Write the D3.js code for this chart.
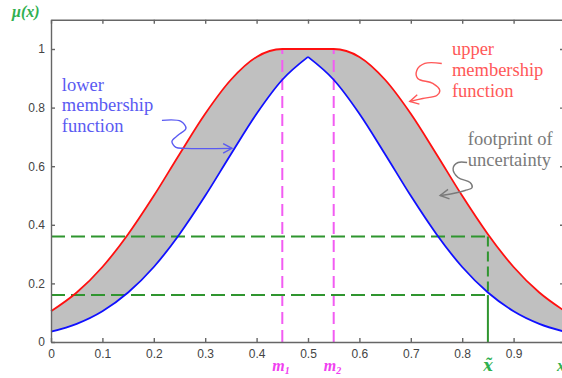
<!DOCTYPE html>
<html>
<head>
<meta charset="utf-8">
<script src="https://cdn.jsdelivr.net/npm/d3@7"></script>
<style>
  body { margin: 0; background: #fff; }
  .axis path, .axis line { stroke: #666; stroke-width: 1.4; }
  .axis text { fill: #444; font-family: "Liberation Sans", Arial, sans-serif; font-size: 12px; }
  .note { font-family: "Liberation Serif", "Times New Roman", serif; font-size: 18.5px; }
</style>
</head>
<body>
<div id="chart"></div>
<script>
// sample points
var xs      = [0, 0.05, 0.1, 0.15, 0.2, 0.25, 0.3, 0.35, 0.4, 0.45, 0.5, 0.55, 0.6, 0.65, 0.7, 0.75, 0.8, 0.85, 0.9, 0.95, 1];
var upperMF = [0.105, 0.169, 0.256, 0.368, 0.499, 0.641, 0.779, 0.895, 0.973, 1, 1, 1, 0.973, 0.895, 0.779, 0.641, 0.499, 0.368, 0.256, 0.169, 0.105];
var lowerMF = [0.035, 0.062, 0.105, 0.169, 0.256, 0.368, 0.499, 0.641, 0.779, 0.895, 0.973, 0.895, 0.779, 0.641, 0.499, 0.368, 0.256, 0.169, 0.105, 0.062, 0.035];

var xTicks = [0, 0.1, 0.2, 0.3, 0.4, 0.5, 0.6, 0.7, 0.8, 0.9, 1];
var xTickLabels = ["0", "0.1", "0.2", "0.3", "0.4", "0.5", "0.6", "0.7", "0.8", "0.9", ""];  // "1" falls off the edge
var yTicks = [0, 0.2, 0.4, 0.6, 0.8, 1];
var yTickLabels = ["0", "0.2", "0.4", "0.6", "0.8", "1"];

var means = [0.45, 0.55];       // m1, m2
var xTilde = 0.85;
var levels = [0.36, 0.16];      // upper / lower grade at x~

var notes = [
  {lines: ["lower", "membership", "function"], tx: 0.021, ty: 0.857, gap: 20.5, color: "#5a5af2",
   ax: 0.352, ay: 0.661, path: [[-70,-28],[-51,-27],[-46,-20],[-54,-13],[-60,-7],[-56,-1],[-47,0],[0,0]]},
  {lines: ["upper", "membership", "function"], tx: 0.780, ty: 0.980, gap: 21, color: "#ff5858",
   ax: 0.698, ay: 0.821, path: [[32,-38],[15,-38],[7,-31],[8,-23],[23,-18],[30,-11],[27,-6],[13,-3],[0,0]]},
  {lines: ["footprint of", "uncertainty"], tx: 0.811, ty: 0.674, gap: 21.5, color: "#7a7a7a",
   ax: 0.757, ay: 0.50, path: [[27,-33],[18,-33],[13,-27],[18,-18],[30,-13],[32,-8],[25,-5],[13,-2],[0,0]]}
];

var width = 562, height = 378;
var svg = d3.select("#chart").append("svg")
  .attr("width", width).attr("height", height);

var x = d3.scaleLinear().domain([0, 1]).range([51, 565]);
var y = d3.scaleLinear().domain([0, 1.1]).range([342, 19.7]);

var pts = xs.map(function(v, i) { return {x: v, u: upperMF[i], l: lowerMF[i]}; });
// lower MF has a sharp apex, so draw both halves on their own
var peak = d3.maxIndex(lowerMF);
var halves = [pts.slice(0, peak + 1), pts.slice(peak)];

var area = d3.area()
  .x(function(d) { return x(d.x); })
  .y0(function(d) { return y(d.l); })
  .y1(function(d) { return y(d.u); })
  .curve(d3.curveMonotoneX);
var lineU = d3.line().x(d => x(d.x)).y(d => y(d.u)).curve(d3.curveMonotoneX);
var lineL = d3.line().x(d => x(d.x)).y(d => y(d.l)).curve(d3.curveMonotoneX);

halves.forEach(function(h) {
  svg.append("path").attr("d", area(h)).attr("fill", "#c0c0c0");
});

// m1, m2 dashed guides
svg.selectAll("line.mean").data(means).enter().append("line")
  .attr("class", "mean")
  .attr("x1", d => x(d)).attr("x2", d => x(d))
  .attr("y1", y(0)).attr("y2", y(1))
  .attr("stroke", "#f25cf2").attr("stroke-width", 2)
  .attr("stroke-dasharray", "12,6");

// x~ guides
var green = "#2f952f";
svg.selectAll("line.lvl").data(levels).enter().append("line")
  .attr("class", "lvl")
  .attr("x1", x(0)).attr("x2", x(xTilde))
  .attr("y1", d => y(d)).attr("y2", d => y(d))
  .attr("stroke", green).attr("stroke-width", 2)
  .attr("stroke-dasharray", "14,6");
svg.append("line")
  .attr("x1", x(xTilde)).attr("x2", x(xTilde))
  .attr("y1", y(levels[0])).attr("y2", y(levels[1]))
  .attr("stroke", green).attr("stroke-width", 2)
  .attr("stroke-dasharray", "10,5");
svg.append("line")
  .attr("x1", x(xTilde)).attr("x2", x(xTilde))
  .attr("y1", y(levels[1])).attr("y2", y(0))
  .attr("stroke", green).attr("stroke-width", 2);

halves.forEach(function(h) {
  svg.append("path").attr("d", lineU(h)).attr("fill", "none")
    .attr("stroke", "#ff1010").attr("stroke-width", 1.8);
  svg.append("path").attr("d", lineL(h)).attr("fill", "none")
    .attr("stroke", "#1010ff").attr("stroke-width", 1.8);
});

// axes box, ticks pointing inward
svg.append("g").attr("class", "axis")
  .attr("transform", "translate(0," + y(0) + ")")
  .call(d3.axisBottom(x).tickValues(xTicks).tickSizeInner(-4).tickSizeOuter(0).tickPadding(7)
    .tickFormat(function(d, i) { return xTickLabels[i]; }));
svg.append("g").attr("class", "axis")
  .attr("transform", "translate(" + x(0) + ",0)")
  .call(d3.axisLeft(y).tickValues(yTicks).tickSizeInner(-4).tickSizeOuter(0).tickPadding(6)
    .tickFormat(function(d, i) { return yTickLabels[i]; }));
svg.append("g").attr("class", "axis")
  .attr("transform", "translate(0," + y(1.1) + ")")
  .call(d3.axisTop(x).tickValues(xTicks).tickSizeInner(-4).tickSizeOuter(0).tickFormat(""));
svg.append("g").attr("class", "axis")
  .attr("transform", "translate(" + x(1) + ",0)")
  .call(d3.axisRight(y).tickValues(yTicks).tickSizeInner(-5).tickSizeOuter(0).tickFormat(""));

// labels
svg.append("text").attr("x", x(0) - 39).attr("y", y(1.1) - 3)
  .attr("fill", "#30b050")
  .style("font", "italic bold 16px 'Liberation Serif', serif")
  .text("\u03bc(x)");

var mLab = svg.selectAll("text.mlab").data(means).enter().append("text")
  .attr("class", "mlab")
  .attr("x", d => x(d) - 10).attr("y", y(0) + 29)
  .attr("fill", "#f040f0")
  .style("font", "italic bold 16px 'Liberation Serif', serif");
mLab.append("tspan").text("m");
mLab.append("tspan").attr("dy", 3).style("font-size", "10px").text((d, i) => String(i + 1));

svg.append("text").attr("x", x(xTilde)).attr("y", y(0) + 29)
  .attr("text-anchor", "middle").attr("fill", "#30b050")
  .style("font", "italic bold 16px 'DejaVu Serif', serif")
  .text("x\u0303");
svg.append("text").attr("x", x(1) - 8).attr("y", y(0) + 29)
  .attr("fill", "#30b050")
  .style("font", "italic bold 16px 'Liberation Serif', serif")
  .text("x");

// annotations with hand drawn arrows
var squiggle = d3.line().curve(d3.curveCatmullRom.alpha(0.5));
notes.forEach(function(n) {
  var t = svg.append("text").attr("class", "note").attr("fill", n.color);
  n.lines.forEach(function(s, i) {
    t.append("tspan").attr("x", x(n.tx)).attr("y", y(n.ty) + i * n.gap).text(s);
  });
  var ox = x(n.ax), oy = y(n.ay);
  var p = n.path.map(function(q) { return [ox + q[0], oy + q[1]]; });
  svg.append("path").attr("d", squiggle(p)).attr("fill", "none")
    .attr("stroke", n.color).attr("stroke-width", 1.4);
  var a = p[p.length - 2], b = p[p.length - 1];
  var ang = Math.atan2(b[1] - a[1], b[0] - a[0]);
  var head = [-0.5, 0.5].map(function(s) {
    return [b[0] - 10 * Math.cos(ang + s), b[1] - 10 * Math.sin(ang + s)];
  });
  svg.append("path").attr("d", d3.line()([head[0], b, head[1]])).attr("fill", "none")
    .attr("stroke", n.color).attr("stroke-width", 1.4);
});
</script>
</body>
</html>
